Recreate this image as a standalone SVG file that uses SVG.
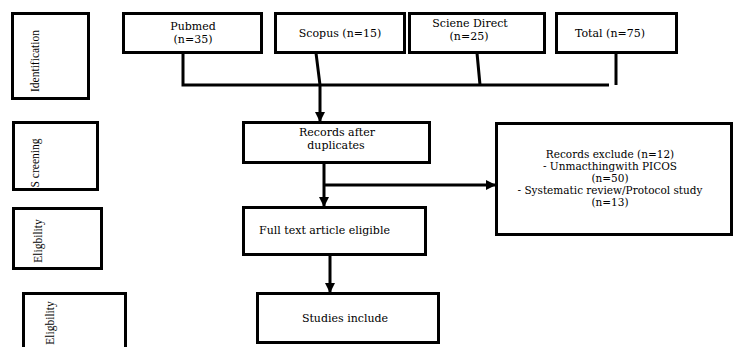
<svg xmlns="http://www.w3.org/2000/svg" width="734" height="347" viewBox="0 0 734 347">
<defs>
<style>
.box{fill:#fff;stroke:#000;stroke-width:3}
.ln{fill:none;stroke:#000;stroke-width:3}
.t{font-family:"DejaVu Serif","Liberation Serif",serif;font-size:11px;fill:#000;text-anchor:middle}
.ts{font-family:"DejaVu Serif","Liberation Serif",serif;font-size:10.5px;fill:#000;text-anchor:middle}
.r{font-family:"Liberation Serif","Times New Roman",serif;font-size:11.5px;fill:#000;text-anchor:middle}
</style>
<marker id="ah" markerUnits="userSpaceOnUse" markerWidth="11" markerHeight="10" refX="10" refY="5" orient="auto">
<path d="M0,0 L10,5 L0,10 z" fill="#000"/>
</marker>
</defs>
<rect width="734" height="347" fill="#fff"/>
<g id="connectors">
<polyline class="ln" points="183,53 183,85 609,85"/>
<line class="ln" x1="316" y1="53" x2="320" y2="85"/>
<line class="ln" x1="477" y1="53" x2="480" y2="85"/>
<line class="ln" x1="616" y1="53" x2="616" y2="85"/>
<line class="ln" x1="320" y1="85" x2="320" y2="122" marker-end="url(#ah)"/>
<line class="ln" x1="324" y1="163" x2="324" y2="207" marker-end="url(#ah)"/>
<line class="ln" x1="324" y1="185" x2="496" y2="185" marker-end="url(#ah)"/>
<line class="ln" x1="330" y1="255" x2="330" y2="293" marker-end="url(#ah)"/>
</g>
<g id="identification">
<rect class="box" x="12.5" y="13.5" width="76" height="85"/>
<text class="r" transform="translate(39,61) rotate(-90)">Identification</text>
</g>
<g id="screening">
<rect class="box" x="13.5" y="122.5" width="84" height="67"/>
<text class="r" transform="translate(39,163) rotate(-90)">S creening</text>
</g>
<g id="eligibility1">
<rect class="box" x="13.5" y="208.5" width="88" height="60"/>
<text class="r" transform="translate(42,241) rotate(-90)">Eligbility</text>
</g>
<g id="eligibility2">
<rect class="box" x="23.5" y="293.5" width="102" height="60"/>
<text class="r" transform="translate(54,323) rotate(-90)">Eligbility</text>
</g>
<g id="pubmed">
<rect class="box" x="123.5" y="13.5" width="138" height="39"/>
<text class="t" x="193" y="30">Pubmed</text>
<text class="t" x="193" y="43">(n=35)</text>
</g>
<g id="scopus">
<rect class="box" x="275.5" y="13.5" width="129" height="39"/>
<text class="t" x="340" y="37">Scopus (n=15)</text>
</g>
<g id="sciencedirect">
<rect class="box" x="409.5" y="13.5" width="135" height="39"/>
<text class="t" x="470" y="27">Sciene Direct</text>
<text class="t" x="469" y="40">(n=25)</text>
</g>
<g id="total">
<rect class="box" x="556.5" y="13.5" width="120" height="39"/>
<text class="t" x="610" y="37">Total (n=75)</text>
</g>
<g id="records">
<rect class="box" x="243.5" y="122.5" width="186" height="40"/>
<text class="t" x="337" y="136">Records after</text>
<text class="t" x="336" y="149">duplicates</text>
</g>
<g id="exclude">
<rect class="box" x="496.5" y="123.5" width="235" height="111"/>
<text class="ts" x="610" y="158">Records exclude (n=12)</text>
<text class="ts" x="610" y="170">- Unmacthingwith PICOS</text>
<text class="ts" x="610" y="182">(n=50)</text>
<text class="ts" x="610" y="194">- Systematic review/Protocol study</text>
<text class="ts" x="610" y="206">(n=13)</text>
</g>
<g id="fulltext">
<rect class="box" x="243.5" y="207.5" width="182" height="47"/>
<text class="t" x="259" y="234" style="text-anchor:start">Full text article eligible</text>
</g>
<g id="studies">
<rect class="box" x="257.5" y="293.5" width="181" height="49"/>
<text class="t" x="345" y="322">Studies include</text>
</g>
</svg>
